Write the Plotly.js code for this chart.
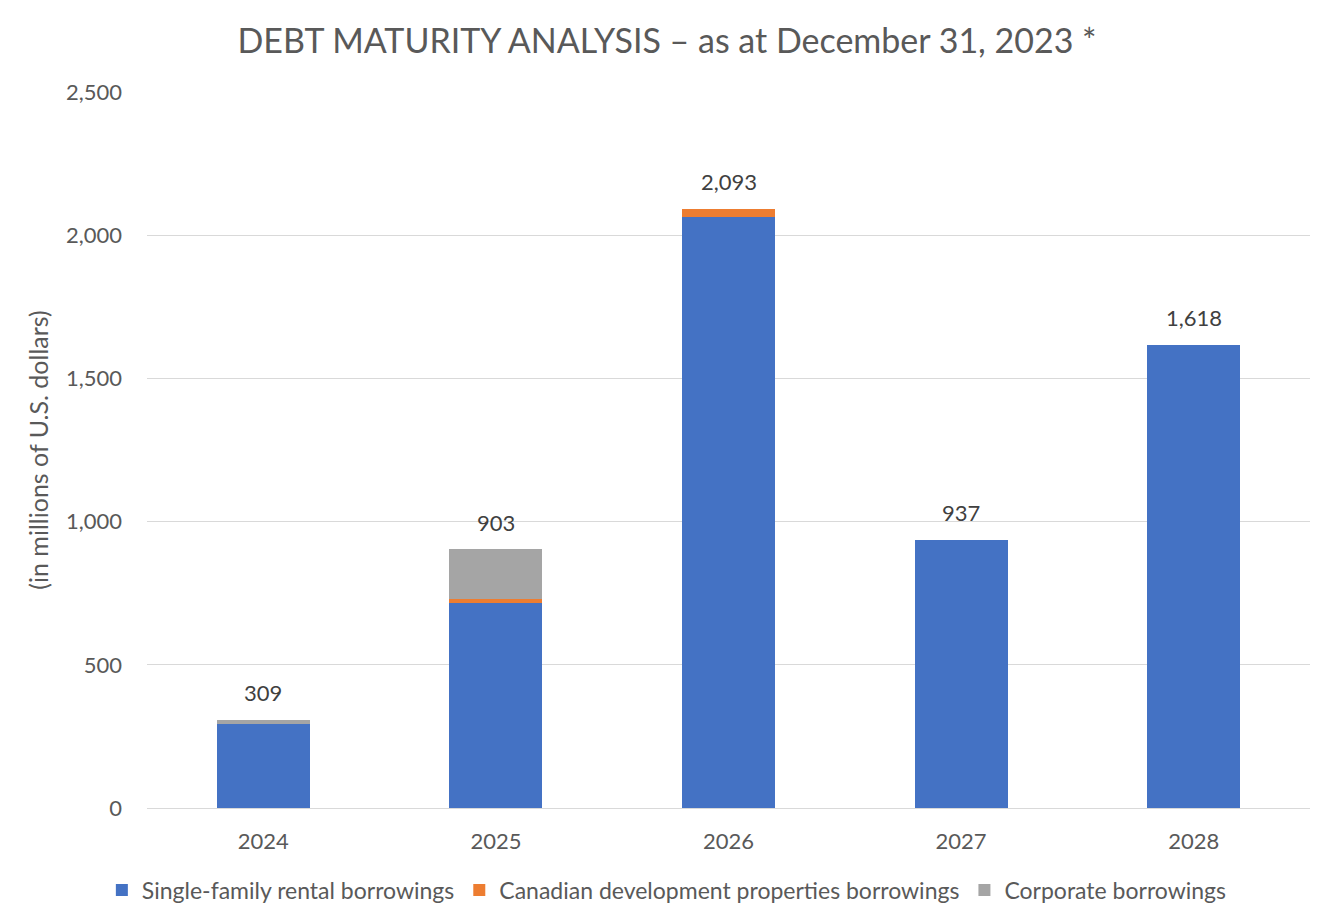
<!DOCTYPE html>
<html>
<head>
<meta charset="utf-8">
<script src="https://cdn.plot.ly/plotly-3.0.1.min.js"></script>
<style>html,body{margin:0;padding:0;background:#fff;}#chart{width:1334px;height:924px;}</style>
</head>
<body>
<div id="chart"></div>
<script>
const years = ["2024", "2025", "2026", "2027", "2028"];
const singleFamily = [294, 716, 2064, 937, 1618];
const canadian = [0, 14, 29, 0, 0];
const corporate = [15, 173, 0, 0, 0];
const totalLabels = ["309", "903", "2,093", "937", "1,618"];

const totals = years.map((_, i) => singleFamily[i] + canadian[i] + corporate[i]);
const font = "Lato, 'Open Sans', sans-serif";

const traces = [
  {type: "bar", name: "Single-family rental borrowings", x: years, y: singleFamily, marker: {color: "#4472c4"}},
  {type: "bar", name: "Canadian development properties borrowings", x: years, y: canadian, marker: {color: "#ed7d31"}},
  {type: "bar", name: "Corporate borrowings", x: years, y: corporate, marker: {color: "#a5a5a5"}}
];

// category axis: annotation x given as category index
const annotations = years.map((yr, i) => ({
  x: i, y: totals[i], text: totalLabels[i], showarrow: false,
  xanchor: "center", yanchor: "middle", yshift: 27,
  font: {size: 22, color: "#404040", family: font}
}));

const layout = {
  width: 1334, height: 924,
  margin: {l: 147, r: 24, t: 92, b: 116},
  barmode: "stack",
  bargap: 0.6,
  paper_bgcolor: "#ffffff", plot_bgcolor: "#ffffff",
  font: {family: font, color: "#595959"},
  title: {text: "DEBT MATURITY ANALYSIS – as at December 31, 2023 *", x: 0.5, xanchor: "center", y: 0.956, yanchor: "middle",
          font: {size: 34, color: "#595959", family: font}},
  xaxis: {type: "category", categoryorder: "array", categoryarray: years, tickangle: 0, automargin: false,
          tickfont: {size: 22, color: "#595959"}, showgrid: false, showline: true, linecolor: "#d9d9d9", linewidth: 1,
          ticks: "", ticklen: 0, ticklabelstandoff: 14},
  yaxis: {range: [0, 2500], dtick: 500, tickformat: ",d", tickfont: {size: 22, color: "#595959"}, gridcolor: "#d9d9d9", gridwidth: 1,
          zeroline: false, ticks: "", ticklabelstandoff: 24,
          title: {text: "(in millions of U.S. dollars)", font: {size: 25, color: "#595959"}, standoff: 10}},
  legend: {orientation: "h", x: 0.447, xanchor: "center", y: -0.1145, yanchor: "middle", font: {size: 23, color: "#595959"}, traceorder: "normal", itemwidth: 30},
  annotations: annotations,
  showlegend: true
};

Plotly.newPlot("chart", traces, layout, {displayModeBar: false});
</script>
</body>
</html>
